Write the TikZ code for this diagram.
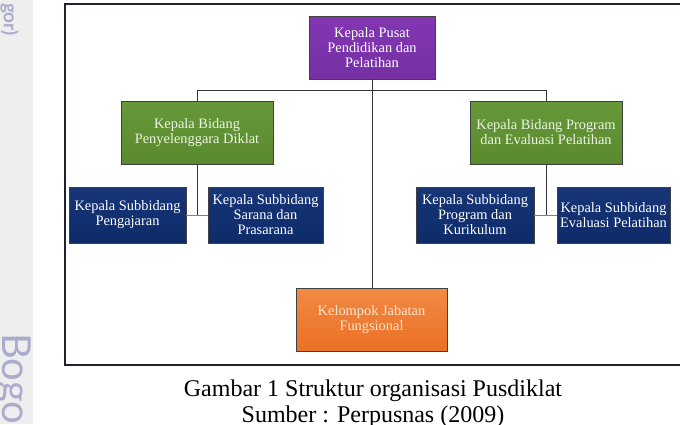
\documentclass[tikz,border=0pt]{standalone}
\usepackage{fontspec}
\setmainfont{Liberation Serif}
\newfontfamily\wmfont{Lato}
\definecolor{purp}{HTML}{7530A3}
\definecolor{purpL}{HTML}{8236B3}
\definecolor{grn}{HTML}{5A8A2D}
\definecolor{grnL}{HTML}{66983A}
\definecolor{navy}{HTML}{0E2A69}
\definecolor{navyL}{HTML}{173678}
\definecolor{orng}{HTML}{EB7024}
\definecolor{orngL}{HTML}{F08A44}
\definecolor{peach}{HTML}{FDE6D2}
\definecolor{pale}{HTML}{EEF4E4}
\definecolor{wm}{HTML}{ABABCB}
\definecolor{strip}{HTML}{EEEEEE}
\definecolor{framec}{HTML}{1C2230}
\tikzset{
  unitbox/.style={draw=black!75, line width=0.8pt, align=center, inner sep=0pt,
    font=\fontsize{14.4}{15}\selectfont},
  purpbox/.style={unitbox, top color=purpL, bottom color=purp, text=white},
  grnbox/.style={unitbox, top color=grnL, bottom color=grn, text=pale},
  navybox/.style={unitbox, top color=navyL, bottom color=navy, text=white},
  orngbox/.style={unitbox, top color=orngL, bottom color=orng, text=peach},
  link/.style={draw=black!80, line width=0.8pt},
  sublink/.style={draw=black!50, line width=1pt},
  caption/.style={font=\fontsize{24}{28}\selectfont, anchor=base, inner sep=0pt}
}
\begin{document}
\begin{tikzpicture}[x=1pt,y=-1pt]
\useasboundingbox (0,0) rectangle (680,424);
\fill[white] (0,0) rectangle (680,424);
% watermark strip
\fill[strip] (0,0) rectangle (33,424);
\node[rotate=-90, anchor=base east, inner sep=0pt, text=wm, font=\wmfont\bfseries\fontsize{19}{19}\selectfont] (wm1) at (4,36) {gor)};
\node[rotate=-90, anchor=base west, inner sep=0pt, text=wm, font=\wmfont\fontsize{40}{40}\selectfont] (wm2) at (2,333) {Bogo};
% frame
\draw[framec, line width=1.6pt] (682,4) -- (65,4) -- (65,365) -- (682,365);
% boxes
\node[purpbox, minimum width=126pt, minimum height=63pt] (top) at (372,47.5) {Kepala Pusat\\Pendidikan dan\\Pelatihan};
\node[grnbox, minimum width=152pt, minimum height=63pt] (gl) at (197,132.5) {Kepala Bidang\\Penyelenggara Diklat};
\node[grnbox, minimum width=152pt, minimum height=63pt] (gr) at (546,132.5) {Kepala Bidang Program\\dan Evaluasi Pelatihan};
\node[navybox, minimum width=117pt, minimum height=56pt] (b1) at (127.5,215) {Kepala Subbidang\\Pengajaran};
\node[navybox, minimum width=115pt, minimum height=56pt] (b2) at (265.5,215) {Kepala Subbidang\\Sarana dan\\Prasarana};
\node[navybox, minimum width=118pt, minimum height=56pt] (b3) at (475,215) {Kepala Subbidang\\Program dan\\Kurikulum};
\node[navybox, minimum width=113pt, minimum height=56pt] (b4) at (613.5,215) {Kepala Subbidang\\Evaluasi Pelatihan};
\node[orngbox, minimum width=151pt, minimum height=63pt] (org) at (371.5,319.5) {Kelompok Jabatan\\Fungsional};
% connectors
\coordinate (busL) at (197,90);
\coordinate (busR) at (546,90);
\draw[link] (top.south) -- (top.south |- org.north);
\draw[link] (gl.north) -- (busL) -- (busR) -- (gr.north);
\draw[link] (gl.south) -- (gl.south |- b1.east);
\draw[link] (gr.south) -- (gr.south |- b3.east);
\draw[sublink] (b1.east) -- (b2.west);
\draw[sublink] (b3.east) -- (b4.west);
% captions
\node[caption] (cap1) at (373,396) {Gambar 1 Struktur organisasi Pusdiklat};
\node[caption] (cap2) at (373,422) {Sumber : Perpusnas (2009)};
\end{tikzpicture}
\end{document}
